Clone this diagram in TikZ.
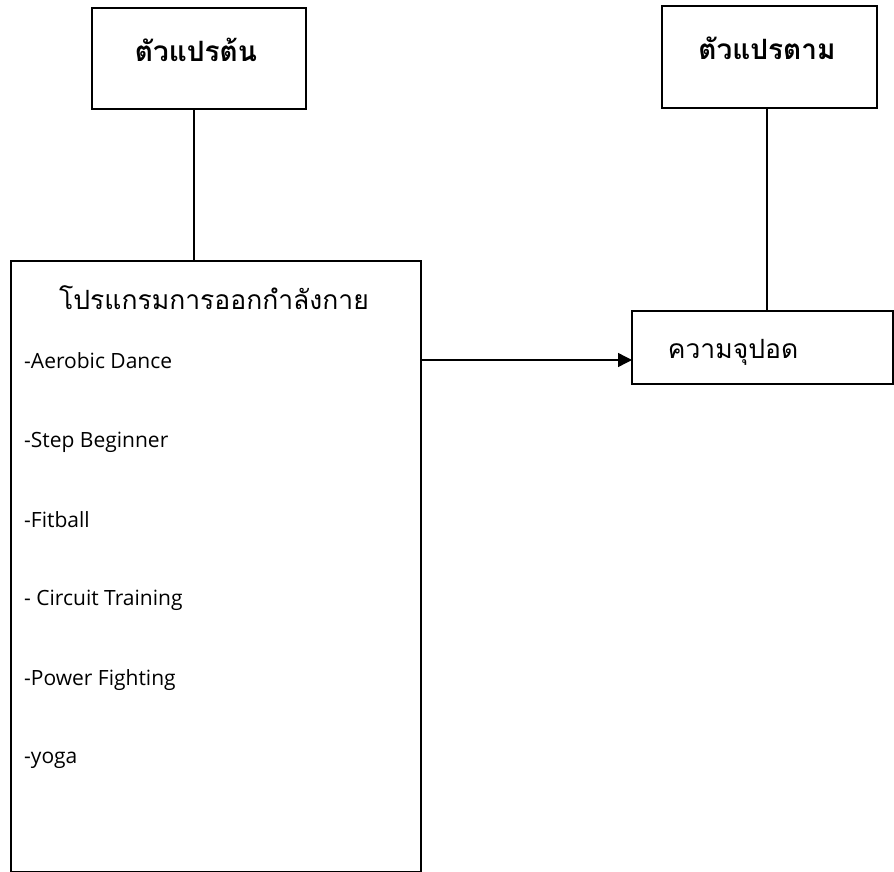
\documentclass[tikz,border=0pt]{standalone}
\usepackage{fontspec}
\setmainfont{Open Sans}
\newfontfamily\thaifont[Script=Thai]{Loma}
\usetikzlibrary{arrows.meta}
\tikzset{
  boxst/.style={draw, line width=1.4pt, inner sep=0pt, outer sep=0pt},
  itemst/.style={anchor=west, inner sep=0pt, font=\fontsize{21}{25}\selectfont},
  thaist/.style={font=\thaifont\fontsize{26.5}{32}\selectfont},
  thaibold/.style={font=\thaifont\bfseries\fontsize{28}{33}\selectfont},
  lnk/.style={line width=1.4pt}
}
\begin{document}
\begin{tikzpicture}[x=1pt,y=-1pt]
\useasboundingbox (0,0) rectangle (894,872);
% boxes
\node[boxst, minimum width=214pt, minimum height=101pt] (b1) at (199,58.5) {};
\node[boxst, minimum width=215pt, minimum height=102pt] (b2) at (769.5,57) {};
\node[boxst, minimum width=410pt, minimum height=611pt] (b3) at (216,566.5) {};
\node[boxst, minimum width=261pt, minimum height=73pt] (b4) at (762.5,347.5) {};
% labels
\node[thaibold] (t1) at (196,50) {ตัวแปรต้น};
\node[thaibold] (t2) at (767,48) {ตัวแปรตาม};
\node[thaist] (t4) at (733,352) {ความจุปอด};
\node[thaist] (t3) at (214,298) {โปรแกรมการออกกำลังกาย};
\node[itemst] (i1) at (24,361) {-Aerobic Dance};
\node[itemst] (i2) at (24,442) {-Step Beginner};
\node[itemst] (i3) at (24,520) {-Fitball};
\node[itemst] (i4) at (24,600) {- Circuit Training};
\node[itemst] (i5) at (24,680) {-Power Fighting};
\node[itemst] (i6) at (24,760) {-yoga};
% connectors
\coordinate (ar) at (0,360);
\draw[lnk] (194,109) coordinate (c1) -- (c1 |- b3.north);
\draw[lnk] (767,108) coordinate (c2) -- (c2 |- b4.north);
\draw[lnk, -{Triangle[length=14pt,width=14pt]}] (b3.east |- ar) -- (b4.west |- ar);
\end{tikzpicture}
\end{document}
